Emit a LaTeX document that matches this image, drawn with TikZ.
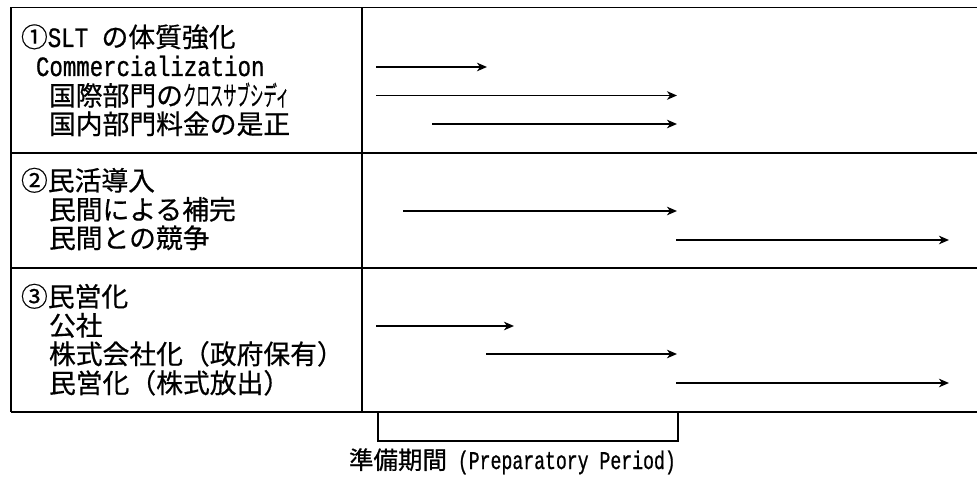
\documentclass[tikz,border=0pt]{standalone}
\usepackage{fontspec}
\usepackage{graphicx}
\newfontfamily\jp[FakeBold=0.6]{Noto Sans CJK JP}
\newfontfamily\mono[FakeStretch=0.8,FakeBold=0.8]{Liberation Mono}
\usetikzlibrary{arrows.meta}
\newcommand\Jt[1]{{\jp\fontsize{26.8}{30}\selectfont #1}}
\newcommand\Mt[1]{{\mono\fontsize{28}{30}\selectfont #1}}
\newcommand\Jl[1]{{\jp\fontsize{24.5}{28}\selectfont #1}}
\newcommand\Ml[1]{\scalebox{0.89}[1]{\mono\fontsize{25.5}{28}\selectfont #1}}
\begin{document}
\begin{tikzpicture}[x=1pt,y=-1pt,
  rule/.style={line width=1.8pt, black},
  arr/.style={line width=1.9pt, -{Stealth[length=10pt,width=8.5pt,inset=3pt]}},
  lbl/.style={anchor=base west, inner sep=0pt, outer sep=0pt},
  brk/.style={line width=1.5pt}]
\useasboundingbox[fill=white] (0,0) rectangle (977,481);
% table frame
\coordinate (tl) at (11,7.5);
\coordinate (tr) at (977,7.5);
\coordinate (bl) at (11,412);
\coordinate (br) at (977,412);
\coordinate (ct) at (362,7.5);
\coordinate (cb) at (362,412);
\coordinate (r1l) at (11,153);
\coordinate (r1r) at (977,153);
\coordinate (r2l) at (11,268);
\coordinate (r2r) at (977,268);
\draw[rule] (tl) -- (tr);
\draw[rule] (r1l) -- (r1r);
\draw[rule] (r2l) -- (r2r);
\draw[rule] (bl) -- (br);
\draw[rule] (tl) -- (bl);
\draw[rule] (ct) -- (cb);
% row 1 texts
\node[lbl] (r1t) at (21,47) {\Jt{①}\Mt{SLT }\Jt{の体質強化}};
\node[lbl] (r1a) at (36,76) {\Mt{Commercialization}};
\node[lbl] (r1b) at (49,105.5) {\Jt{国際部門の}\scalebox{0.5}[1]{\Jt{クロスサブシディ}}};
\node[lbl] (r1c) at (49,134) {\Jt{国内部門料金の是正}};
% row 2 texts
\node[lbl] (r2t) at (21,190.5) {\Jt{②民活導入}};
\node[lbl] (r2a) at (49,219.5) {\Jt{民間による補完}};
\node[lbl] (r2b) at (49,248) {\Jt{民間との競争}};
% row 3 texts
\node[lbl] (r3t) at (21,306.5) {\Jt{③民営化}};
\node[lbl] (r3a) at (49,335.5) {\Jt{公社}};
\node[lbl] (r3b) at (49,364) {\Jt{株式会社化（政府保有）}};
\node[lbl] (r3c) at (49,393) {\Jt{民営化（株式放出）}};
% arrows
\coordinate (a1s) at (376,67);  \coordinate (a1e) at (487,67);
\coordinate (a2s) at (376,95.5);\coordinate (a2e) at (677,95.5);
\coordinate (a3s) at (432,124); \coordinate (a3e) at (677,124);
\coordinate (a4s) at (403,211); \coordinate (a4e) at (677,211);
\coordinate (a5s) at (676,240); \coordinate (a5e) at (949,240);
\coordinate (a6s) at (376,326); \coordinate (a6e) at (514,326);
\coordinate (a7s) at (486,354); \coordinate (a7e) at (677,354);
\coordinate (a8s) at (676,383); \coordinate (a8e) at (949,383);
\foreach \i in {1,...,8} {\draw[arr] (a\i s) -- (a\i e);}
% bracket
\coordinate (b1) at (378,412);
\coordinate (b2) at (378,441);
\coordinate (b3) at (678,441);
\coordinate (b4) at (678,412);
\draw[brk] (b1) -- (b2) -- (b3) -- (b4);
\node[lbl] (per) at (349,469) {\Jl{準備期間}\Ml{\ (Preparatory Period)}};
\end{tikzpicture}
\end{document}
